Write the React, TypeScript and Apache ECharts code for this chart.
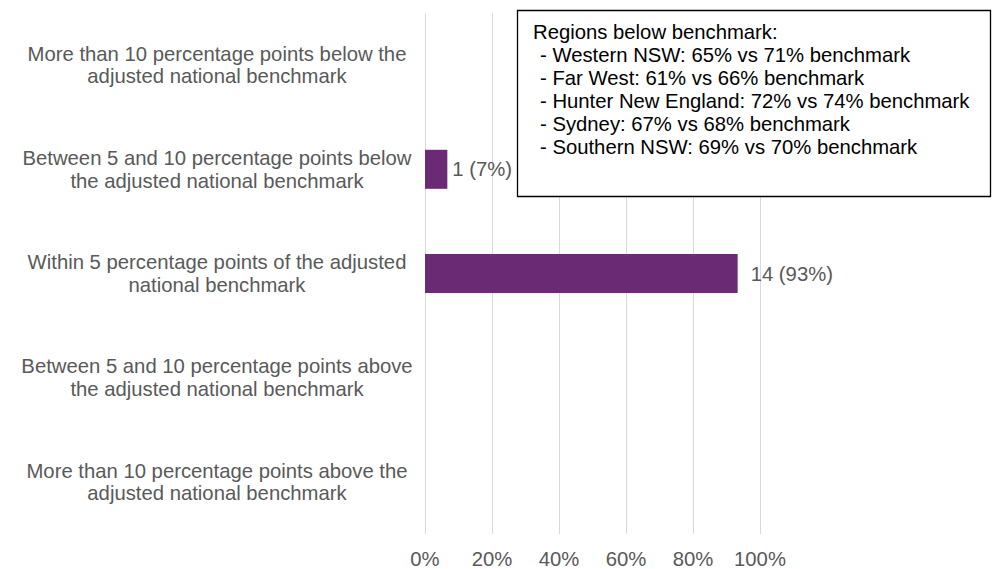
import React, { useEffect, useRef } from "react";
import * as echarts from "echarts";

const categories: string[] = [
  "More than 10 percentage points below the\nadjusted national benchmark",
  "Between 5 and 10 percentage points below\nthe adjusted national benchmark",
  "Within 5 percentage points of the adjusted\nnational benchmark",
  "Between 5 and 10 percentage points above\nthe adjusted national benchmark",
  "More than 10 percentage points above the\nadjusted national benchmark",
];
const counts: number[] = [0, 1, 14, 0, 0];
const percents: number[] = [0, 6.67, 93.33, 0, 0];
const xTicks: number[] = [0, 20, 40, 60, 80, 100];
const boxTitle = "Regions below benchmark:";
const boxLines: string[] = [
  "- Western NSW: 65% vs 71% benchmark",
  "- Far West: 61% vs 66% benchmark",
  "- Hunter New England: 72% vs 74% benchmark",
  "- Sydney: 67% vs 68% benchmark",
  "- Southern NSW: 69% vs 70% benchmark",
];

const FONT = "'Liberation Sans', Arial, sans-serif";
const FS = 20.3;
const GRAY = "#595959";
const labelDistances = [5, 5, 13, 5, 5];

export default function App() {
  const ref = useRef<HTMLDivElement>(null);
  useEffect(() => {
    if (!ref.current) return;
    const chart = echarts.init(ref.current, undefined, { renderer: "svg" });
    chart.setOption({
      animation: false,
      textStyle: { fontFamily: FONT },
      grid: { left: 425, top: 13, width: 335, height: 524, containLabel: false },
      xAxis: {
        type: "value",
        min: xTicks[0],
        max: xTicks[xTicks.length - 1],
        interval: 20,
        axisLine: { show: false },
        axisTick: { show: false },
        splitLine: { show: true, lineStyle: { color: "#D9D9D9", width: 1 } },
        axisLabel: {
          formatter: "{value}%",
          color: GRAY,
          fontSize: FS,
          fontFamily: FONT,
          margin: 15,
        },
      },
      yAxis: {
        type: "category",
        inverse: true,
        data: categories,
        axisLine: { show: false },
        axisTick: { show: false },
        splitLine: { show: false },
        axisLabel: {
          color: GRAY,
          fontSize: FS,
          fontFamily: FONT,
          align: "center",
          margin: 208,
          lineHeight: 22.5,
        },
      },
      series: [
        {
          type: "bar",
          barWidth: 39,
          itemStyle: { color: "#6B2A74" },
          data: percents.map((p, i) => ({
            value: p,
            label: {
              show: counts[i] > 0,
              position: "right",
              distance: labelDistances[i],
              formatter: `${counts[i]} (${Math.round(p)}%)`,
              color: GRAY,
              fontSize: FS,
              fontFamily: FONT,
            },
          })),
        },
      ],
      graphic: [
        {
          type: "rect",
          shape: { x: 517.5, y: 10.5, width: 473, height: 186 },
          style: { fill: "#FFFFFF", stroke: "#000000", lineWidth: 1.3 },
          z: 100,
        },
        {
          type: "text",
          x: 533,
          y: 20.5,
          z: 101,
          style: {
            text: boxTitle,
            fill: "#000000",
            font: `${FS}px ${FONT}`,
            lineHeight: 23,
            textVerticalAlign: "top",
          },
        },
        {
          type: "text",
          x: 540,
          y: 43.5,
          z: 101,
          style: {
            text: boxLines.join("\n"),
            fill: "#000000",
            font: `${FS}px ${FONT}`,
            lineHeight: 23.1,
            textVerticalAlign: "top",
          },
        },
      ],
    });
    return () => chart.dispose();
  }, []);
  return (
    <div
      ref={ref}
      style={{ position: "absolute", left: 0, top: 0, width: 992, height: 569, background: "#fff" }}
    />
  );
}
